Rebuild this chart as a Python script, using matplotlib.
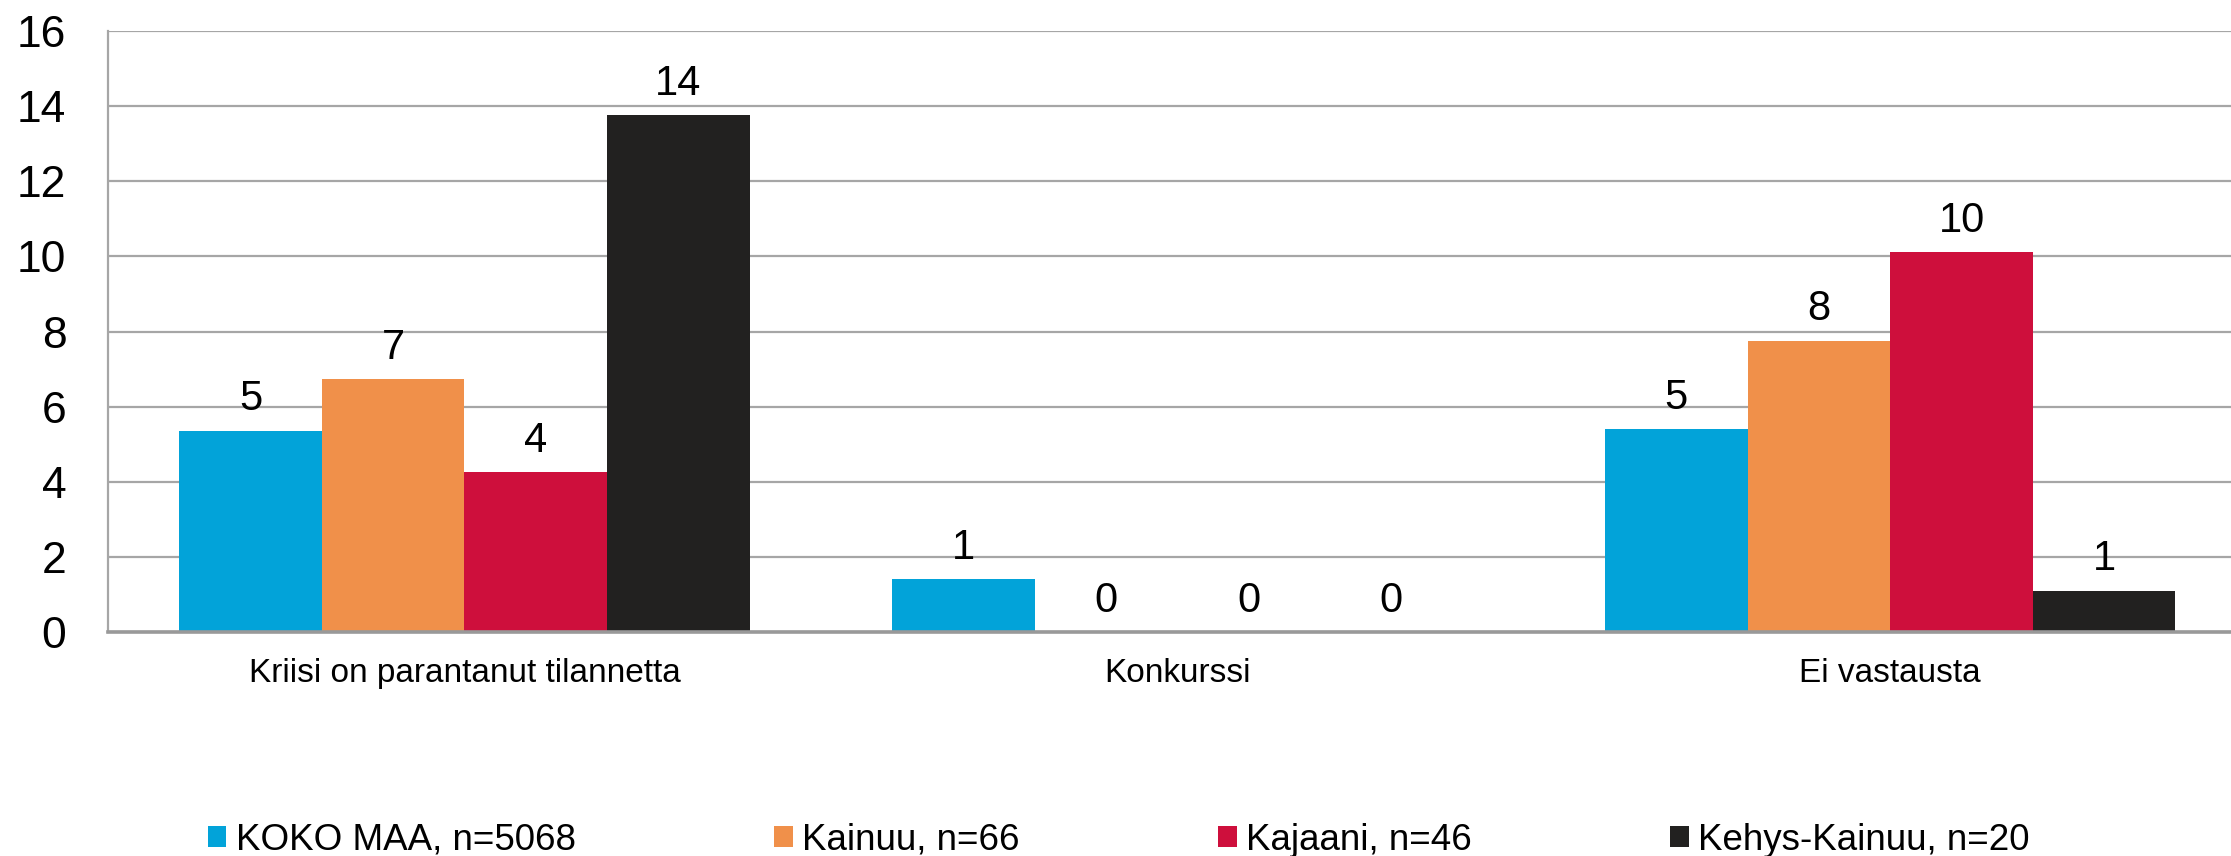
import matplotlib.pyplot as plt
import numpy as np

# Data
categories = ["Kriisi on parantanut tilannetta", "Konkurssi", "Ei vastausta"]
series_names = ["KOKO MAA, n=5068", "Kainuu, n=66", "Kajaani, n=46", "Kehys-Kainuu, n=20"]
koko_maa = [5.36, 1.41, 5.40]
kainuu = [6.73, 0.0, 7.76]
kajaani = [4.26, 0.0, 10.11]
kehys_kainuu = [13.76, 0.0, 1.10]
colors = ["#02A3D9", "#F0904A", "#CE0F3C", "#222120"]

plt.rcParams["font.family"] = ["Liberation Sans", "DejaVu Sans"]

fig = plt.figure(figsize=(22.31, 8.56), dpi=100)
ax = fig.add_axes([108 / 2231, 1 - 632 / 856, 1 - 108 / 2231, (632 - 31) / 856])

x = np.arange(len(categories))
width = 0.2
all_series = [koko_maa, kainuu, kajaani, kehys_kainuu]
for i, (vals, name, c) in enumerate(zip(all_series, series_names, colors)):
    pos = x + (i - 1.5) * width
    ax.bar(pos, vals, width, color=c, label=name, zorder=3)
    for p, v in zip(pos, vals):
        ax.text(p, v + 0.3, f"{v:.0f}", ha="center", va="bottom", fontsize=30, zorder=4)

ax.set_ylim(0, 16)
ax.set_yticks(range(0, 17, 2))
ax.set_xlim(-0.5, 2.478)
ax.set_xticks(x)
ax.set_xticklabels(categories, fontsize=24)
ax.tick_params(axis="y", length=0, pad=30, labelsize=32)
ax.tick_params(axis="x", length=0, pad=19)

ax.grid(axis="y", color="#A6A6A6", linewidth=1.6, zorder=0)
for s in ["top", "right"]:
    ax.spines[s].set_visible(False)
ax.spines["left"].set_color("#A6A6A6")
ax.spines["left"].set_linewidth(1.6)
ax.spines["bottom"].set_color("#999999")
ax.spines["bottom"].set_linewidth(2.6)
ax.spines["bottom"].set_zorder(5)

fig.legend(loc="center left", bbox_to_anchor=(208 / 2231, 1 - 840 / 856), ncol=4,
           frameon=False, fontsize=26.5, handlelength=0.5, handleheight=0.5,
           handletextpad=0.25, columnspacing=5.4, borderaxespad=0, borderpad=0)

fig.savefig("out.png", dpi=100)
